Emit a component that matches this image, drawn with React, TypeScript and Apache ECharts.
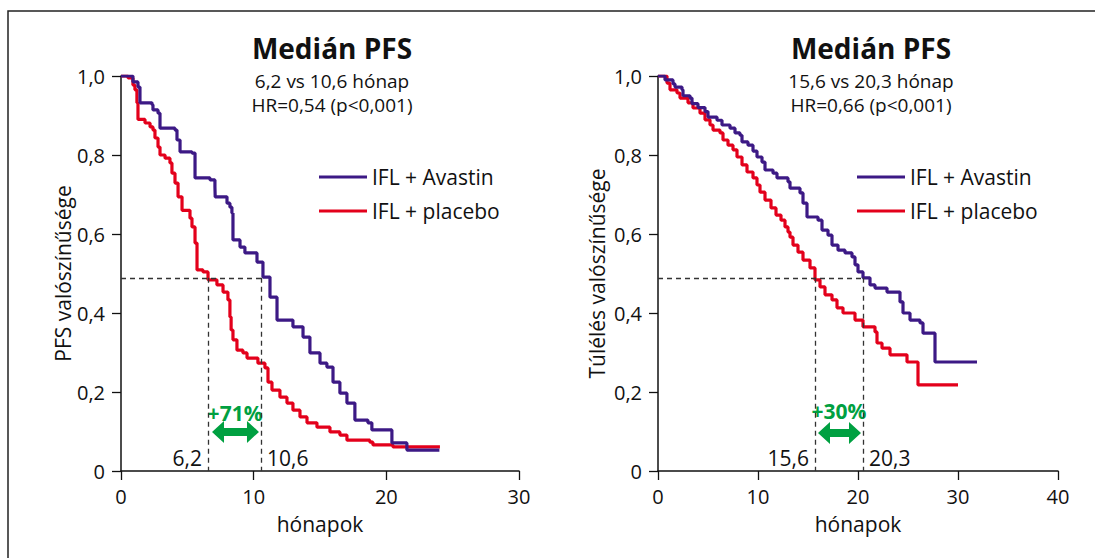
import React, { useEffect, useRef } from "react";
import * as echarts from "echarts";

const PURPLE = "#3c1985";
const RED = "#e3001b";
const GREEN = "#00a041";
const FONT = "'Open Sans', 'Noto Sans', sans-serif";

const seriesNames = ["IFL + Avastin", "IFL + placebo"];
const titles = ["Medián PFS", "Medián PFS"];
const subtitles = ["6,2 vs 10,6 hónap\nHR=0,54 (p<0,001)", "15,6 vs 20,3 hónap\nHR=0,66 (p<0,001)"];
const yNames = ["PFS valószínűsége", "Túlélés valószínűsége"];
const xName = "hónapok";
const xMax = [30, 40];

// Kaplan-Meier steps [month, probability]
const avastinLeft: [number, number][] = [
  [0, 1.0], [0.9, 0.985], [1.28, 0.972], [1.43, 0.932], [2.34, 0.927], [2.41, 0.914], [2.79, 0.906],
  [2.94, 0.868], [4.07, 0.863], [4.22, 0.838], [4.45, 0.808], [5.35, 0.805], [5.58, 0.742], [6.71, 0.737],
  [7.08, 0.719], [7.1, 0.694], [7.99, 0.678], [8.21, 0.668], [8.36, 0.653], [8.44, 0.585], [8.97, 0.567],
  [9.34, 0.552], [10.25, 0.529], [10.7, 0.491], [11.23, 0.44], [11.76, 0.382], [12.96, 0.365],
  [13.72, 0.339], [14.24, 0.299], [15.0, 0.273], [15.52, 0.263], [15.98, 0.225], [16.5, 0.197],
  [17.03, 0.172], [17.63, 0.129], [18.61, 0.122], [18.91, 0.104], [20.42, 0.071], [21.55, 0.053], [24.0, 0.053],
];
const placeboLeft: [number, number][] = [
  [0, 1.0], [0.53, 0.995], [0.9, 0.977], [1.05, 0.965], [1.2, 0.932], [1.28, 0.89], [1.81, 0.881],
  [2.19, 0.871], [2.41, 0.863], [2.56, 0.843], [2.79, 0.82], [2.94, 0.8], [3.32, 0.792], [3.69, 0.78],
  [3.84, 0.754], [4.07, 0.729], [4.3, 0.694], [4.6, 0.66], [5.2, 0.64], [5.35, 0.618], [5.58, 0.577],
  [5.73, 0.509], [6.18, 0.504], [6.56, 0.484], [7.23, 0.471], [7.69, 0.453], [8.06, 0.433], [8.21, 0.39],
  [8.3, 0.357], [8.44, 0.332], [8.74, 0.306], [9.19, 0.299], [9.5, 0.286], [10.32, 0.273], [10.85, 0.261],
  [11.08, 0.225], [11.38, 0.205], [11.98, 0.187], [12.51, 0.172], [12.96, 0.154], [13.49, 0.137],
  [14.02, 0.122], [14.77, 0.111], [15.75, 0.099], [16.5, 0.091], [17.03, 0.078], [18.76, 0.073],
  [18.99, 0.066], [20.5, 0.061], [24.04, 0.061],
];
const avastinRight: [number, number][] = [
  [0, 1.0], [0.7, 0.99], [1.5, 0.98], [1.7, 0.972], [2.4, 0.965], [2.5, 0.95], [3.2, 0.944], [3.4, 0.93],
  [4.0, 0.92], [4.7, 0.91], [5.0, 0.896], [5.9, 0.888], [6.4, 0.876], [7.2, 0.868], [7.7, 0.856],
  [8.2, 0.85], [8.4, 0.833], [9.0, 0.825], [9.5, 0.81], [9.9, 0.795], [10.4, 0.782], [10.7, 0.762],
  [11.5, 0.754], [11.9, 0.742], [13.0, 0.732], [13.2, 0.716], [14.2, 0.704], [14.5, 0.678], [14.9, 0.643],
  [16.0, 0.635], [16.4, 0.61], [17.0, 0.597], [17.4, 0.572], [18.0, 0.559], [18.7, 0.552], [19.4, 0.542],
  [19.7, 0.522], [20.0, 0.504], [20.5, 0.489], [21.2, 0.471], [21.7, 0.463], [22.9, 0.453], [24.2, 0.428],
  [24.5, 0.4], [25.2, 0.382], [26.2, 0.375], [26.5, 0.349], [27.7, 0.276], [31.9, 0.276],
];
const placeboRight: [number, number][] = [
  [0, 1.0], [0.9, 0.982], [1.2, 0.965], [1.9, 0.957], [2.2, 0.944], [3.0, 0.932], [3.5, 0.919],
  [4.2, 0.906], [4.7, 0.889], [5.2, 0.876], [5.5, 0.863], [6.2, 0.856], [6.5, 0.838], [7.0, 0.825],
  [7.5, 0.813], [7.9, 0.795], [8.4, 0.775], [8.9, 0.757], [9.5, 0.742], [9.9, 0.724], [10.2, 0.706],
  [10.7, 0.686], [11.3, 0.666], [11.8, 0.648], [12.3, 0.635], [12.7, 0.618], [13.0, 0.605], [13.2, 0.592],
  [13.5, 0.572], [14.0, 0.554], [14.5, 0.534], [15.2, 0.514], [15.7, 0.484], [16.2, 0.466], [16.7, 0.446],
  [17.4, 0.433], [17.9, 0.413], [18.5, 0.4], [19.7, 0.382], [20.5, 0.365], [21.7, 0.352], [21.9, 0.324],
  [22.4, 0.311], [23.2, 0.294], [24.9, 0.276], [26.0, 0.218], [30.0, 0.218],
];

// median markers: [placebo line x, avastin line x], level
const medianX = [[6.55, 10.55], [15.7, 20.5]];
const medianLevel = 0.489;
const medianLabels = [["6,2", "10,6"], ["15,6", "20,3"]];
const medianLabelY = 0.033;
// gain arrows: [from, to, y], label
const arrows = [[6.86, 10.4, 0.099], [16.0, 20.3, 0.096]];
const gainLabels = ["+71%", "+30%"];
const gainLabelPos = [[8.6, 0.148], [18.1, 0.152]];

const gridLefts = [121, 658];
const gridWidths = [398, 400];

const fmtY = (v: number) => (v === 0 ? "0" : v.toFixed(1).replace(".", ","));

export default function App() {
  const ref = useRef<HTMLDivElement>(null);
  useEffect(() => {
    if (!ref.current) return;
    const chart = echarts.init(ref.current, undefined, { renderer: "svg" });
    const grids = [0, 1].map((i) => ({ left: gridLefts[i], top: 76, width: gridWidths[i], height: 395 }));
    const xAxes = [0, 1].map((i) => ({
      type: "value", gridIndex: i, min: 0, max: xMax[i], interval: 10,
      splitLine: { show: false },
      axisLine: { lineStyle: { color: "#111", width: 1.5 } },
      axisTick: { inside: false, length: 9, lineStyle: { color: "#111", width: 1.3 } },
      axisLabel: { color: "#111", fontSize: 20, fontFamily: FONT, margin: 15 },
      name: xName, nameLocation: "middle", nameGap: 42,
      nameTextStyle: { color: "#111", fontSize: 21, fontFamily: FONT },
    }));
    const yAxes = [0, 1].map((i) => ({
      type: "value", gridIndex: i, min: 0, max: 1, interval: 0.2,
      splitLine: { show: false },
      axisLine: { lineStyle: { color: "#111", width: 1.5 } },
      axisTick: { inside: false, length: 9, lineStyle: { color: "#111", width: 1.3 } },
      axisLabel: { color: "#111", fontSize: 20, fontFamily: FONT, margin: 16, formatter: fmtY },
      name: yNames[i], nameLocation: "middle", nameGap: i === 0 ? 47 : 51, nameRotate: 90,
      nameTextStyle: { color: "#111", fontSize: 21, fontFamily: FONT },
    }));
    const curves = [
      [avastinLeft, placeboLeft],
      [avastinRight, placeboRight],
    ];
    const series: any[] = [];
    [0, 1].forEach((g) => {
      [1, 0].forEach((k) => {
        series.push({
          type: "line", name: seriesNames[k], xAxisIndex: g, yAxisIndex: g, step: "end",
          showSymbol: false, symbol: "none", data: curves[g][k], z: 3 + (1 - k),
          lineStyle: { color: k === 0 ? PURPLE : RED, width: 3.2 },
          itemStyle: { color: k === 0 ? PURPLE : RED },
        });
      });
      const [xa, xb] = medianX[g];
      const lbl = { show: true, color: "#111", fontSize: 21, fontFamily: FONT };
      series.push({
        type: "scatter", xAxisIndex: g, yAxisIndex: g, symbolSize: 0, silent: true, z: 2,
        itemStyle: { opacity: 1 },
        data: [
          { value: [xa, medianLabelY], label: { ...lbl, position: "left", distance: 6, formatter: medianLabels[g][0] } },
          { value: [xb, medianLabelY], label: { ...lbl, position: "right", distance: 6, formatter: medianLabels[g][1] } },
          { value: gainLabelPos[g], label: { ...lbl, position: "inside", formatter: gainLabels[g], color: GREEN, fontWeight: "bold", fontSize: 21 } },
        ],
        markLine: {
          silent: true, symbol: "none",
          lineStyle: { type: [5, 4], color: "#333", width: 1.3 },
          label: { show: false },
          data: [
            [{ coord: [0, medianLevel] }, { coord: [xb, medianLevel] }],
            [{ coord: [xa, medianLevel] }, { coord: [xa, 0] }],
            [{ coord: [xb, medianLevel] }, { coord: [xb, 0] }],
          ],
        },
      });
      series.push({
        type: "custom", xAxisIndex: g, yAxisIndex: g, silent: true, z: 4,
        encode: { x: [0, 1], y: 2 },
        data: [arrows[g]],
        renderItem: (params: any, api: any) => {
          const p1 = api.coord([api.value(0), api.value(2)]);
          const p2 = api.coord([api.value(1), api.value(2)]);
          const y = p1[1], x1 = p1[0], x2 = p2[0];
          const h = 12, hw = 11, sw = 4;
          return {
            type: "polygon",
            shape: {
              points: [
                [x1, y], [x1 + h, y - hw], [x1 + h, y - sw], [x2 - h, y - sw], [x2 - h, y - hw],
                [x2, y], [x2 - h, y + hw], [x2 - h, y + sw], [x1 + h, y + sw], [x1 + h, y + hw],
              ],
            },
            style: { fill: GREEN },
          };
        },
      });
    });

    chart.setOption({
      animation: false,
      textStyle: { fontFamily: FONT },
      grid: grids,
      xAxis: xAxes,
      yAxis: yAxes,
      title: [0, 1].map((i) => ({
        text: titles[i], subtext: subtitles[i],
        left: gridLefts[i] + (i === 0 ? 206 : 208), top: 26, textAlign: "center", itemGap: 4,
        textStyle: { fontSize: 28, fontWeight: "bold", color: "#111", fontFamily: FONT, lineHeight: 34 },
        subtextStyle: { fontSize: 19, color: "#111", lineHeight: 24, fontFamily: FONT },
      })),
      legend: [0, 1].map((i) => ({
        data: seriesNames, orient: "vertical", left: i === 0 ? 314 : 852, top: 161,
        itemWidth: 48, itemHeight: 3, itemGap: 12, icon: "rect", selectedMode: false,
        textStyle: { fontSize: 21, color: "#111", fontFamily: FONT, lineHeight: 22 },
      })),
      graphic: [
        { type: "rect", silent: true, shape: { x: 8, y: 11, width: 1200, height: 700 }, style: { fill: "none", stroke: "#222", lineWidth: 1.5 } },
      ],
      series,
    });
    return () => chart.dispose();
  }, []);
  return <div ref={ref} style={{ position: "fixed", left: 0, top: 0, width: 1095, height: 558, background: "#fff" }} />;
}
